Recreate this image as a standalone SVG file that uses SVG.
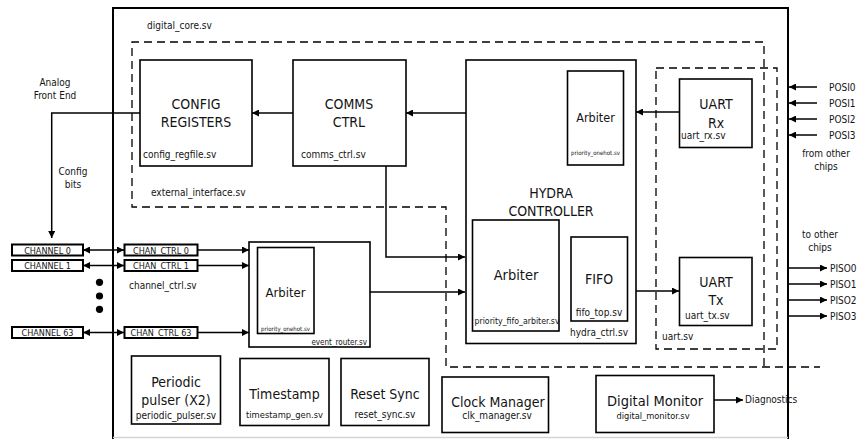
<svg xmlns="http://www.w3.org/2000/svg" width="858" height="439" viewBox="0 0 858 439">
<style>
.t{font-family:"DejaVu Sans Condensed","DejaVu Sans","Liberation Sans",sans-serif;font-stretch:condensed;fill:#141414}
.big{font-size:14px;text-anchor:middle}
.sm{font-size:10px}
.c{text-anchor:middle}
.e{text-anchor:end}
.box{fill:#fff;stroke:#000;stroke-width:1.6}
.cbox{fill:#fff;stroke:#000;stroke-width:2}
.dash{fill:none;stroke:#000;stroke-width:1.3;stroke-dasharray:8 5}
.w{fill:none;stroke:#000;stroke-width:1.5}
.a{marker-end:url(#ah)}
.d{marker-start:url(#ah);marker-end:url(#ah)}
</style>
<defs>
<marker id="ah" viewBox="0 0 10 10" refX="10" refY="5" markerWidth="9" markerHeight="7" markerUnits="userSpaceOnUse" orient="auto-start-reverse">
<path d="M0,0 L10,5 L0,10 z" fill="#000"/>
</marker>
</defs>
<rect width="858" height="439" fill="#fff"/>

<g id="digital_core">
<path d="M113,439 V8 H788 V439" fill="none" stroke="#000" stroke-width="2"/>
<line x1="113" y1="437.5" x2="788" y2="437.5" stroke="#d4d4d4" stroke-width="1.5"/>
<text class="t sm" x="147" y="29">digital_core.sv</text>
</g>

<g id="external_interface">
<path class="dash" d="M764,366 V42 H132 V207 H446 V367 H820"/>
<text class="t sm" x="151" y="196">external_interface.sv</text>
</g>

<g id="uart">
<rect class="dash" x="656" y="68" width="121" height="281"/>
<text class="t sm" x="662" y="340">uart.sv</text>
</g>

<g id="connectors">
<line class="w a" x1="293" y1="113" x2="252" y2="113"/>
<line class="w a" x1="466" y1="113" x2="406" y2="113"/>
<line class="w a" x1="679" y1="112" x2="636" y2="112"/>
<path class="w a" d="M140,113 H51.7 V238"/>
<path class="w a" d="M386,166 V257 H465"/>
<line class="w a" x1="370" y1="292" x2="465" y2="292"/>
<line class="w a" x1="559" y1="278.5" x2="571" y2="278.5"/>
<line class="w a" x1="636" y1="291" x2="679" y2="291"/>
<line class="w d" x1="83" y1="250" x2="124" y2="250"/>
<line class="w d" x1="83" y1="265.5" x2="124" y2="265.5"/>
<line class="w d" x1="83" y1="332.5" x2="124" y2="332.5"/>
<line class="w a" x1="198" y1="250" x2="249" y2="250"/>
<line class="w a" x1="198" y1="265.5" x2="249" y2="265.5"/>
<line class="w a" x1="198" y1="332.5" x2="249" y2="332.5"/>
<line class="w a" x1="714" y1="400" x2="743" y2="400"/>
<line class="w a" x1="817" y1="87" x2="789" y2="87"/>
<line class="w a" x1="817" y1="103" x2="789" y2="103"/>
<line class="w a" x1="817" y1="119" x2="789" y2="119"/>
<line class="w a" x1="817" y1="135" x2="789" y2="135"/>
<line class="w a" x1="788" y1="268" x2="827" y2="268"/>
<line class="w a" x1="788" y1="284" x2="827" y2="284"/>
<line class="w a" x1="788" y1="300" x2="827" y2="300"/>
<line class="w a" x1="788" y1="316" x2="827" y2="316"/>
</g>

<g id="labels">
<text class="t sm c" x="55" y="85.5">Analog</text>
<text class="t sm c" x="55" y="99">Front End</text>
<text class="t sm c" x="73" y="175">Config</text>
<text class="t sm c" x="73" y="188">bits</text>
<text class="t sm c" x="826" y="157">from other</text>
<text class="t sm c" x="826" y="170">chips</text>
<text class="t sm c" x="820" y="238">to other</text>
<text class="t sm c" x="820" y="251">chips</text>
<text class="t sm" x="829" y="90.5">POSI0</text>
<text class="t sm" x="829" y="106.5">POSI1</text>
<text class="t sm" x="829" y="122.5">POSI2</text>
<text class="t sm" x="829" y="138.5">POSI3</text>
<text class="t sm" x="830" y="271.5">PISO0</text>
<text class="t sm" x="830" y="287.5">PISO1</text>
<text class="t sm" x="830" y="303.5">PISO2</text>
<text class="t sm" x="830" y="319.5">PISO3</text>
<text class="t sm" x="745" y="403">Diagnostics</text>
<text class="t sm" x="129" y="289">channel_ctrl.sv</text>
<circle cx="99.5" cy="282.3" r="3.6" fill="#000"/>
<circle cx="99.5" cy="296" r="3.6" fill="#000"/>
<circle cx="99.5" cy="309.3" r="3.6" fill="#000"/>
</g>

<g id="config_registers">
<rect class="box" x="140" y="60" width="112" height="106"/>
<text class="t big" x="196" y="108.5">CONFIG</text>
<text class="t big" x="196" y="127">REGISTERS</text>
<text class="t sm" x="143" y="158">config_regfile.sv</text>
</g>

<g id="comms_ctrl">
<rect class="box" x="293" y="60" width="113" height="106"/>
<text class="t big" x="349" y="108.5">COMMS</text>
<text class="t big" x="349" y="127">CTRL</text>
<text class="t sm" x="301" y="158">comms_ctrl.sv</text>
</g>

<g id="hydra_controller">
<rect class="box" x="466" y="60" width="170" height="283.5"/>
<text class="t big" x="551" y="198">HYDRA</text>
<text class="t big" x="551" y="216">CONTROLLER</text>
<text class="t sm" x="570" y="336">hydra_ctrl.sv</text>
</g>

<g id="hydra_arbiter_onehot">
<rect class="box" x="567.5" y="71" width="56" height="94"/>
<text class="t c" x="595.5" y="122" style="font-size:12.5px">Arbiter</text>
<text class="t c" x="595.5" y="155" style="font-size:6px">priority_onehot.sv</text>
</g>

<g id="hydra_arbiter_fifo">
<rect class="box" x="472.5" y="220" width="86.5" height="111"/>
<text class="t big" x="516" y="280" style="font-size:14.5px">Arbiter</text>
<text class="t" x="474.5" y="324" style="font-size:8.7px">priority_fifo_arbiter.sv</text>
</g>

<g id="fifo">
<rect class="box" x="571" y="237" width="56.5" height="84"/>
<text class="t big" x="599" y="284">FIFO</text>
<text class="t sm c" x="599" y="316">fifo_top.sv</text>
</g>

<g id="uart_rx">
<rect class="box" x="679.5" y="79" width="72.5" height="68.5"/>
<text class="t big" x="716" y="109">UART</text>
<text class="t big" x="716" y="128">Rx</text>
<text class="t sm" x="681" y="139">uart_rx.sv</text>
</g>

<g id="uart_tx">
<rect class="box" x="679.5" y="257.5" width="72.5" height="68"/>
<text class="t big" x="716" y="287">UART</text>
<text class="t big" x="716" y="305">Tx</text>
<text class="t sm" x="685" y="319">uart_tx.sv</text>
</g>

<g id="event_router">
<rect class="box" x="249" y="242" width="121" height="105"/>
<rect class="box" x="257.5" y="247.5" width="56.5" height="86"/>
<text class="t c" x="285.5" y="297" style="font-size:13px">Arbiter</text>
<text class="t c" x="285.5" y="331" style="font-size:6px">priority_onehot.sv</text>
<text class="t e" x="367" y="344.5" style="font-size:8px">event_router.sv</text>
</g>

<g id="channel_0">
<rect class="cbox" x="12" y="244.5" width="71" height="11"/>
<text class="t c" x="47.5" y="253.5" style="font-size:9px">CHANNEL 0</text>
</g>
<g id="channel_1">
<rect class="cbox" x="12" y="260" width="71" height="11"/>
<text class="t c" x="47.5" y="269" style="font-size:9px">CHANNEL 1</text>
</g>
<g id="channel_63">
<rect class="cbox" x="12" y="327" width="71" height="11"/>
<text class="t c" x="47.5" y="336" style="font-size:9px">CHANNEL 63</text>
</g>
<g id="chan_ctrl_0">
<rect class="cbox" x="124.5" y="244.5" width="73" height="11"/>
<text class="t c" x="161" y="253.5" style="font-size:9px">CHAN_CTRL 0</text>
</g>
<g id="chan_ctrl_1">
<rect class="cbox" x="124.5" y="260" width="73" height="11"/>
<text class="t c" x="161" y="269" style="font-size:9px">CHAN_CTRL 1</text>
</g>
<g id="chan_ctrl_63">
<rect class="cbox" x="124.5" y="327" width="73" height="11"/>
<text class="t c" x="161" y="336" style="font-size:9px">CHAN_CTRL 63</text>
</g>

<g id="periodic_pulser">
<rect class="box" x="131.5" y="356" width="89" height="68"/>
<text class="t big" x="176" y="387">Periodic</text>
<text class="t big" x="176" y="405">pulser (X2)</text>
<text class="t sm c" x="176" y="419">periodic_pulser.sv</text>
</g>

<g id="timestamp">
<rect class="box" x="240" y="358.5" width="89" height="67"/>
<text class="t big" x="284.5" y="399">Timestamp</text>
<text class="t c" x="284.5" y="418" style="font-size:9.3px">timestamp_gen.sv</text>
</g>

<g id="reset_sync">
<rect class="box" x="341" y="358.5" width="88" height="67"/>
<text class="t big" x="385" y="399">Reset Sync</text>
<text class="t sm c" x="385" y="418">reset_sync.sv</text>
</g>

<g id="clock_manager">
<rect class="box" x="442" y="377" width="106.5" height="55.5"/>
<text class="t big" x="498" y="406.5">Clock Manager</text>
<text class="t sm c" x="497" y="419">clk_manager.sv</text>
</g>

<g id="digital_monitor">
<rect class="box" x="596" y="375.5" width="118" height="57"/>
<text class="t big" x="655" y="406" style="font-size:14.5px">Digital Monitor</text>
<text class="t c" x="653" y="419" style="font-size:9.2px">digital_monitor.sv</text>
</g>
</svg>
